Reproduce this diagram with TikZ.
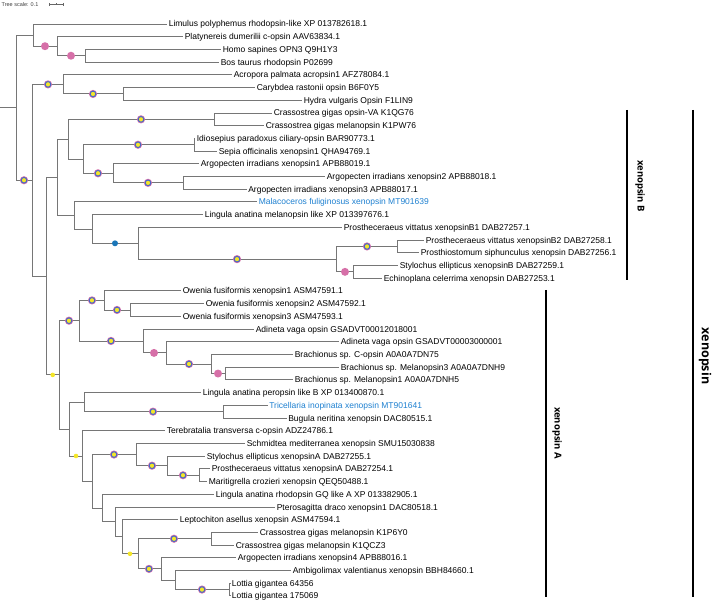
\documentclass[tikz,border=0pt]{standalone}
\usepackage{fontspec}
\setmainfont{Liberation Sans}
\newfontfamily\osans{Open Sans}
\definecolor{brgray}{RGB}{118,118,118}
\definecolor{mkyellow}{RGB}{244,230,40}
\definecolor{mkblue}{RGB}{70,105,200}
\definecolor{mkpink}{RGB}{214,112,168}
\definecolor{dotblue}{RGB}{26,118,184}
\definecolor{labblue}{RGB}{30,128,208}
\newcommand\leafnode[5][black]{%
  \coordinate (#2) at (#3,#4);
  \node[lab, text=#1] (#2x) at ([xshift=1.6pt,yshift=-3pt]#2) {#5};}
\begin{document}
\begin{tikzpicture}[x=1pt,y=-1pt,
  br/.style={draw=brgray, line width=0.9pt},
  lab/.style={font=\fontsize{8.5}{10}\selectfont, inner sep=0pt, anchor=base west},
  tri/.style={circle, minimum size=5.6pt, inner sep=0pt, fill=mkyellow, draw=mkblue, line width=1pt, preaction={draw=mkpink, line width=2.4pt}},
  pinkdot/.style={circle, minimum size=8pt, inner sep=0pt, fill=mkpink},
  bluedot/.style={circle, minimum size=6pt, inner sep=0pt, fill=dotblue},
  ydot/.style={circle, minimum size=4.6pt, inner sep=0pt, fill=mkyellow},
  bracket/.style={draw=black, line width=2pt},
  clab/.style={font=\osans\bfseries\fontsize{9.5}{11}\selectfont, rotate=-90, inner sep=0pt}]
\useasboundingbox (0,0) rectangle (714,601);

% tree scale
\node[font=\fontsize{5.5}{6}\selectfont, anchor=west, inner sep=0pt, text=black!75] (ts) at (1.5,4.5) {Tree scale: 0.1};
\coordinate (sb1) at (49,4.5);
\coordinate (sb2) at (63,4.5);
\coordinate (sbm) at (56,4.5);
\draw[black!60, line width=0.5pt] (sb1) -- (sb2);
\draw[black!60, line width=0.5pt] ([yshift=1.5pt]sb1) -- ([yshift=-1.5pt]sb1);
\draw[black!60, line width=0.5pt] ([yshift=1.5pt]sb2) -- ([yshift=-1.5pt]sb2);
\draw[black!60, line width=0.5pt] ([yshift=1pt]sbm) -- ([yshift=-1pt]sbm);

% leaves
\leafnode{t1}{167}{24.0}{Limulus polyphemus rhodopsin-like XP 013782618.1}
\leafnode{t2}{183}{36.7}{Platynereis dumerilii c-opsin AAV63834.1}
\leafnode{t3}{221}{49.4}{Homo sapines OPN3 Q9H1Y3}
\leafnode{t4}{219}{62.1}{Bos taurus rhodopsin P02699}
\leafnode{t5}{232}{74.8}{Acropora palmata acropsin1 AFZ78084.1}
\leafnode{t6}{255}{87.6}{Carybdea rastonii opsin B6F0Y5}
\leafnode{t7}{302}{100.3}{Hydra vulgaris Opsin F1LIN9}
\leafnode{t8}{272}{113.0}{Crassostrea gigas opsin-VA K1QG76}
\leafnode{t9}{264}{125.7}{Crassostrea gigas melanopsin K1PW76}
\leafnode{t10}{195}{138.4}{Idiosepius paradoxus ciliary-opsin BAR90773.1}
\leafnode{t11}{217}{151.1}{Sepia officinalis xenopsin1 QHA94769.1}
\leafnode{t12}{199}{163.8}{Argopecten irradians xenopsin1 APB88019.1}
\leafnode{t13}{325}{176.5}{Argopecten irradians xenopsin2 APB88018.1}
\leafnode{t14}{246.5}{189.2}{Argopecten irradians xenopsin3 APB88017.1}
\leafnode[labblue]{t15}{257}{201.9}{Malacoceros fuliginosus xenopsin MT901639}
\leafnode{t16}{203}{214.7}{Lingula anatina melanopsin like XP 013397676.1}
\leafnode{t17}{342}{227.4}{Prostheceraeus vittatus xenopsinB1 DAB27257.1}
\leafnode{t18}{424}{240.1}{Prostheceraeus vittatus xenopsinB2 DAB27258.1}
\leafnode{t19}{419}{252.8}{Prosthiostomum siphunculus xenopsin DAB27256.1}
\leafnode{t20}{398}{265.5}{Stylochus ellipticus xenopsinB DAB27259.1}
\leafnode{t21}{382}{278.2}{Echinoplana celerrima xenopsin DAB27253.1}
\leafnode{t22}{181}{290.9}{Owenia fusiformis xenopsin1 ASM47591.1}
\leafnode{t23}{204}{303.6}{Owenia fusiformis xenopsin2 ASM47592.1}
\leafnode{t24}{181}{316.3}{Owenia fusiformis xenopsin3 ASM47593.1}
\leafnode{t25}{254}{329.0}{Adineta vaga opsin GSADVT00012018001}
\leafnode{t26}{339}{341.8}{Adineta vaga opsin GSADVT00003000001}
\leafnode{t27}{293}{354.5}{Brachionus sp. C-opsin A0A0A7DN75}
\leafnode{t28}{339}{367.2}{Brachionus sp. Melanopsin3 A0A0A7DNH9}
\leafnode{t29}{293}{379.9}{Brachionus sp. Melanopsin1 A0A0A7DNH5}
\leafnode{t30}{201}{392.6}{Lingula anatina peropsin like B XP 013400870.1}
\leafnode[labblue]{t31}{267.5}{405.3}{Tricellaria inopinata xenopsin MT901641}
\leafnode{t32}{286.5}{418.0}{Bugula neritina xenopsin DAC80515.1}
\leafnode{t33}{165}{430.7}{Terebratalia transversa c-opsin ADZ24786.1}
\leafnode{t34}{245}{443.4}{Schmidtea mediterranea xenopsin SMU15030838}
\leafnode{t35}{205}{456.1}{Stylochus ellipticus xenopsinA DAB27255.1}
\leafnode{t36}{210}{468.9}{Prostheceraeus vittatus xenopsinA DAB27254.1}
\leafnode{t37}{207}{481.6}{Maritigrella crozieri xenopsin QEQ50488.1}
\leafnode{t38}{214}{494.3}{Lingula anatina rhodopsin GQ like A XP 013382905.1}
\leafnode{t39}{275}{507.0}{Pterosagitta draco xenopsin1 DAC80518.1}
\leafnode{t40}{178}{519.7}{Leptochiton asellus xenopsin ASM47594.1}
\leafnode{t41}{258}{532.4}{Crassostrea gigas melanopsin K1P6Y0}
\leafnode{t42}{234}{545.1}{Crassostrea gigas melanopsin K1QCZ3}
\leafnode{t43}{236}{557.8}{Argopecten irradians xenopsin4 APB88016.1}
\leafnode{t44}{291}{570.5}{Ambigolimax valentianus xenopsin BBH84660.1}
\leafnode{t45}{230}{583.2}{Lottia gigantea 64356}
\leafnode{t46}{230}{595.9}{Lottia gigantea 175069}

% internal nodes
\coordinate (R0) at (0,107.7);
\coordinate (R) at (16,107.7);
\coordinate (A) at (33,35.1);
\coordinate (A2) at (57,46.2);
\coordinate (A3) at (85,55.75);
\coordinate (B) at (32,180.25);
\coordinate (C) at (63,84.4);
\coordinate (C2) at (123,93.95);
\coordinate (X) at (46,276.1);
\coordinate (XB) at (57,177.3);
\coordinate (XB1) at (68,139.2);
\coordinate (D1) at (214,119.35);
\coordinate (D2) at (83,159.0);
\coordinate (E1) at (194,144.75);
\coordinate (E2) at (113,173.3);
\coordinate (E3) at (183,182.85);
\coordinate (XB2) at (74,215.45);
\coordinate (F1) at (92,229.0);
\coordinate (F2) at (138,243.3);
\coordinate (F3) at (336,259.15);
\coordinate (G1) at (397,246.45);
\coordinate (G2) at (353,271.85);
\coordinate (XA) at (59,374.9);
\coordinate (XA1) at (79,320.7);
\coordinate (H1) at (104,300.4);
\coordinate (H1b) at (130,309.95);
\coordinate (H2) at (143,340.95);
\coordinate (H3) at (166,352.9);
\coordinate (H4) at (211,364.0);
\coordinate (H5) at (225,373.55);
\coordinate (XA2) at (69,429.05);
\coordinate (I1) at (84,402.1);
\coordinate (I1b) at (223,411.65);
\coordinate (I2) at (82,456.0);
\coordinate (J) at (92,481.3);
\coordinate (J1) at (136,454.55);
\coordinate (J1b) at (167,465.7);
\coordinate (J1c) at (199,475.25);
\coordinate (J2) at (102,508.1);
\coordinate (K) at (115,521.9);
\coordinate (K2) at (122,536.75);
\coordinate (K3) at (138,553.8);
\coordinate (L1) at (211,538.75);
\coordinate (L2) at (161,568.9);
\coordinate (L3) at (175,580.0);
\coordinate (L4) at (229.5,589.55);

% branches
\draw[br] (R0) -- (R);
\draw[br] (R) |- (A);   \draw[br] (R) |- (B);
\draw[br] (A) |- (t1);  \draw[br] (A) |- (A2);
\draw[br] (A2) |- (t2); \draw[br] (A2) |- (A3);
\draw[br] (A3) |- (t3); \draw[br] (A3) |- (t4);
\draw[br] (B) |- (C);   \draw[br] (B) |- (X);
\draw[br] (C) |- (t5);  \draw[br] (C) |- (C2);
\draw[br] (C2) |- (t6); \draw[br] (C2) |- (t7);
\draw[br] (X) |- (XB);  \draw[br] (X) |- (XA);
\draw[br] (XB) |- (XB1); \draw[br] (XB) |- (XB2);
\draw[br] (XB1) |- (D1); \draw[br] (XB1) |- (D2);
\draw[br] (D1) |- (t8); \draw[br] (D1) |- (t9);
\draw[br] (D2) |- (E1); \draw[br] (D2) |- (E2);
\draw[br] (E1) |- (t10); \draw[br] (E1) |- (t11);
\draw[br] (E2) |- (t12); \draw[br] (E2) |- (E3);
\draw[br] (E3) |- (t13); \draw[br] (E3) |- (t14);
\draw[br] (XB2) |- (t15); \draw[br] (XB2) |- (F1);
\draw[br] (F1) |- (t16); \draw[br] (F1) |- (F2);
\draw[br] (F2) |- (t17); \draw[br] (F2) |- (F3);
\draw[br] (F3) |- (G1); \draw[br] (F3) |- (G2);
\draw[br] (G1) |- (t18); \draw[br] (G1) |- (t19);
\draw[br] (G2) |- (t20); \draw[br] (G2) |- (t21);
\draw[br] (XA) |- (XA1); \draw[br] (XA) |- (XA2);
\draw[br] (XA1) |- (H1); \draw[br] (XA1) |- (H2);
\draw[br] (H1) |- (t22); \draw[br] (H1) |- (H1b);
\draw[br] (H1b) |- (t23); \draw[br] (H1b) |- (t24);
\draw[br] (H2) |- (t25); \draw[br] (H2) |- (H3);
\draw[br] (H3) |- (t26); \draw[br] (H3) |- (H4);
\draw[br] (H4) |- (t27); \draw[br] (H4) |- (H5);
\draw[br] (H5) |- (t28); \draw[br] (H5) |- (t29);
\draw[br] (XA2) |- (I1); \draw[br] (XA2) |- (I2);
\draw[br] (I1) |- (t30); \draw[br] (I1) |- (I1b);
\draw[br] (I1b) |- (t31); \draw[br] (I1b) |- (t32);
\draw[br] (I2) |- (t33); \draw[br] (I2) |- (J);
\draw[br] (J) |- (J1); \draw[br] (J) |- (J2);
\draw[br] (J1) |- (t34); \draw[br] (J1) |- (J1b);
\draw[br] (J1b) |- (t35); \draw[br] (J1b) |- (J1c);
\draw[br] (J1c) |- (t36); \draw[br] (J1c) |- (t37);
\draw[br] (J2) |- (t38); \draw[br] (J2) |- (K);
\draw[br] (K) |- (t39); \draw[br] (K) |- (K2);
\draw[br] (K2) |- (t40); \draw[br] (K2) |- (K3);
\draw[br] (K3) |- (L1); \draw[br] (K3) |- (L2);
\draw[br] (L1) |- (t41); \draw[br] (L1) |- (t42);
\draw[br] (L2) |- (t43); \draw[br] (L2) |- (L3);
\draw[br] (L3) |- (t44); \draw[br] (L3) |- (L4);
\draw[br] (L4) |- (t45); \draw[br] (L4) |- (t46);

% markers
\node[pinkdot] (pA2) at (45,46.2) {};
\node[pinkdot] (pA3) at (71,55.75) {};
\node[pinkdot] (pG2) at (345,271.85) {};
\node[pinkdot] (pH3) at (154,352.9) {};
\node[pinkdot] (pH5) at (218,373.55) {};
\node[tri] (mB) at (24,180.25) {};
\node[tri] (mC) at (48,84.4) {};
\node[tri] (mC2) at (93,93.95) {};
\node[tri] (mD1) at (141,119.35) {};
\node[tri] (mE1) at (138,144.75) {};
\node[tri] (mE2) at (98,173.3) {};
\node[tri] (mE3) at (148,182.85) {};
\node[tri] (mF3) at (237,259.15) {};
\node[tri] (mG1) at (367,246.45) {};
\node[tri] (mXA1) at (69,320.7) {};
\node[tri] (mH1) at (92,300.4) {};
\node[tri] (mH1b) at (117,309.95) {};
\node[tri] (mH2) at (111,340.95) {};
\node[tri] (mH4) at (189,364.0) {};
\node[tri] (mI1b) at (153,411.65) {};
\node[tri] (mJ1) at (114,454.55) {};
\node[tri] (mJ1b) at (152,465.7) {};
\node[tri] (mJ1c) at (183,475.25) {};
\node[tri] (mL1) at (174,538.75) {};
\node[tri] (mL2) at (149,568.9) {};
\node[tri] (mL4) at (202,589.55) {};
\node[bluedot] (bF2) at (115,243.3) {};
\node[ydot] (yXA) at (52.7,374.9) {};
\node[ydot] (yI2) at (76,456.0) {};
\node[ydot] (yK3) at (130,553.8) {};

% clade brackets
\coordinate (bB1) at (626.7,110);
\coordinate (bB2) at (626.7,280);
\coordinate (bA1) at (545.7,290);
\coordinate (bA2) at (545.7,597);
\coordinate (bX1) at (693.3,110);
\coordinate (bX2) at (693.3,597);
\draw[bracket] (bB1) -- (bB2);
\draw[bracket] (bA1) -- (bA2);
\draw[bracket] (bX1) -- (bX2);
\node[clab] (lbB) at (640,186) {xenopsin B};
\node[clab] (lbA) at (557,433) {xenopsin A};
\node[clab, font=\osans\bfseries\fontsize{12.5}{14}\selectfont] (lbX) at (705,356) {xenopsin};
\end{tikzpicture}
\end{document}
